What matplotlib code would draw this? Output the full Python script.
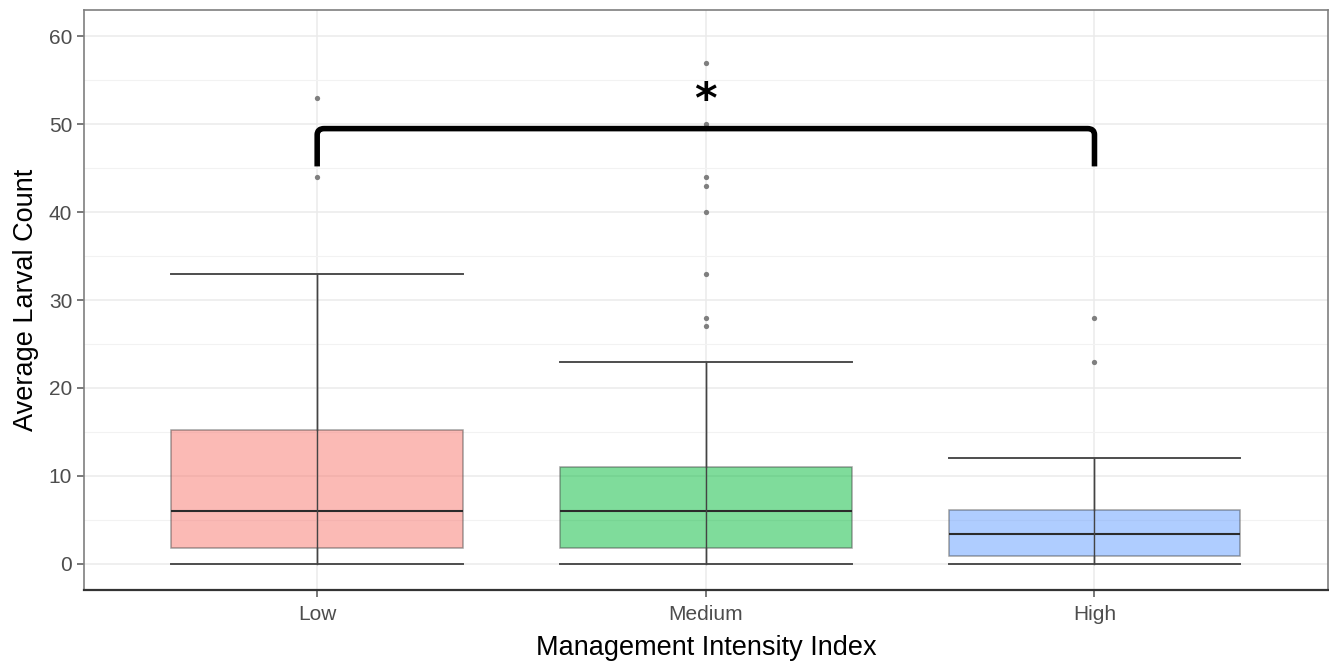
import matplotlib.pyplot as plt
from matplotlib.path import Path
from matplotlib.patches import PathPatch

plt.rcParams['font.family'] = ['Liberation Sans', 'DejaVu Sans']

# data
groups = ['Low', 'Medium', 'High']
lower = [0, 0, 0]
q1 = [1.8, 1.8, 0.9]
median = [6, 6, 3.4]
q3 = [15.2, 11, 6.1]
upper = [33, 23, 12]
outliers = [
    [44, 53],
    [27, 28, 33, 40, 43, 44, 50, 57],
    [23, 28],
]
fills = ['#F8766D', '#00BA38', '#619CFF']

bracket_top = 49.5
bracket_foot = 45.2
star_y = 52.6

fig = plt.figure(figsize=(13.29, 6.63), dpi=100)
ax = fig.add_axes([0.0632, 0.110, 0.9358, 0.875])

pos = list(range(1, len(groups) + 1))
stats = []
for i, g in enumerate(groups):
    stats.append(dict(label=g, whislo=lower[i], q1=q1[i], med=median[i],
                      q3=q3[i], whishi=upper[i], fliers=outliers[i]))

bp = ax.bxp(stats, positions=pos, widths=0.75, patch_artist=True,
            showcaps=True, capwidths=0.75,
            boxprops=dict(edgecolor='#444444', linewidth=1.1),
            medianprops=dict(color='#2b2b2b', linewidth=1.5),
            whiskerprops=dict(color='#444444', linewidth=1.0),
            capprops=dict(color='#4d4d4d', linewidth=1.4),
            flierprops=dict(marker='o', markersize=3.8, markerfacecolor='#7f7f7f',
                            markeredgecolor='none'),
            zorder=3)
for patch, c in zip(bp['boxes'], fills):
    patch.set_facecolor(c)
    patch.set_alpha(0.5)
    patch.set_edgecolor('#444444')

# whisker line runs through the translucent box
ax.vlines(pos, lower, upper, color='#444444', linewidth=1.0, zorder=4)

# significance bracket Low vs High
x0, x1 = pos[0], pos[-1]
rx, ry = 0.018, 0.7
verts = [(x0, bracket_foot), (x0, bracket_top - ry), (x0, bracket_top),
         (x0 + rx, bracket_top), (x1 - rx, bracket_top), (x1, bracket_top),
         (x1, bracket_top - ry), (x1, bracket_foot)]
codes = [Path.MOVETO, Path.LINETO, Path.CURVE3, Path.CURVE3, Path.LINETO,
         Path.CURVE3, Path.CURVE3, Path.LINETO]
ax.add_patch(PathPatch(Path(verts, codes), fill=False, edgecolor='black',
                       linewidth=4, capstyle='butt', joinstyle='round', zorder=5))
ax.text((x0 + x1) / 2, star_y, '*', ha='center', va='center', fontsize=31,
        fontweight='bold', family='DejaVu Sans', color='black', zorder=6)

ax.set_xlim(0.4, 3.6)
ax.set_ylim(-3.0, 63.0)
ax.set_xticks(pos)
ax.set_xticklabels(groups)
ax.set_yticks([0, 10, 20, 30, 40, 50, 60])
ax.set_yticks([5, 15, 25, 35, 45, 55], minor=True)

ax.grid(True, which='major', color='#ebebeb', linewidth=1.1, zorder=0)
ax.grid(True, which='minor', axis='y', color='#f2f2f2', linewidth=0.8, zorder=0)
ax.set_axisbelow(True)

for s in ax.spines.values():
    s.set_color('#7f7f7f')
    s.set_linewidth(1.2)
ax.spines['bottom'].set_color('#333333')
ax.spines['bottom'].set_linewidth(1.6)

ax.tick_params(axis='both', which='major', labelsize=15, colors='#555555',
               length=5, width=1.1)
ax.tick_params(axis='x', which='major', pad=6)
ax.tick_params(axis='both', which='minor', length=0)
for lab in ax.get_xticklabels() + ax.get_yticklabels():
    lab.set_color('#4d4d4d')

ax.set_xlabel('Management Intensity Index', fontsize=19.5, color='black', labelpad=8)
ax.set_ylabel('Average Larval Count', fontsize=19.5, color='black', labelpad=7)

fig.savefig('out.png', dpi=100)
